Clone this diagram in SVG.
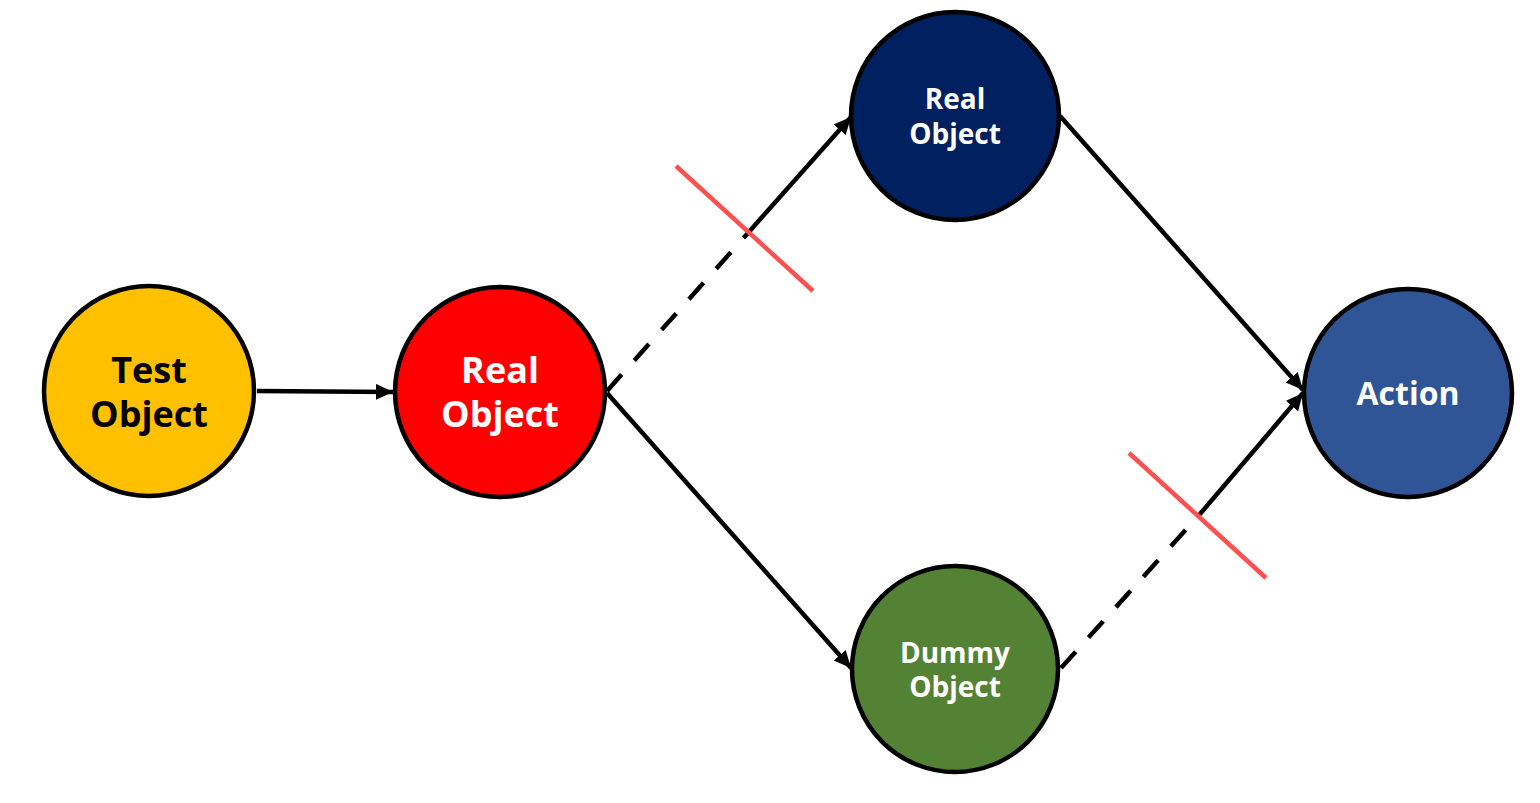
<svg xmlns="http://www.w3.org/2000/svg" width="1540" height="803" viewBox="0 0 1540 803">
<style>
.node{stroke:#000;stroke-width:4.5}
.lbl{font-family:"Open Sans","Noto Sans",sans-serif;font-weight:bold;text-anchor:middle}
.ln{stroke:#000;stroke-width:4.5;fill:none}
.dash{stroke-dasharray:22 19}
.cut{stroke:#FF4F4F;stroke-width:4.5}
</style>
<defs>
<marker id="ah" markerUnits="userSpaceOnUse" markerWidth="20" markerHeight="18" refX="17" refY="8" orient="auto">
<path d="M0,0 L17,8 L0,16 Z" fill="#000"/>
</marker>
</defs>
<rect width="1540" height="803" fill="#fff"/>
<g id="connectors">
<line class="ln" x1="257" y1="391" x2="393" y2="392" marker-end="url(#ah)"/>
<line class="ln dash" x1="607" y1="391" x2="748" y2="233"/>
<line class="ln" x1="748" y1="233" x2="851" y2="117" marker-end="url(#ah)"/>
<line class="ln" x1="607" y1="393" x2="851" y2="668" marker-end="url(#ah)"/>
<line class="ln" x1="1060" y1="116" x2="1303" y2="390" marker-end="url(#ah)"/>
<line class="ln dash" x1="1061" y1="668" x2="1200" y2="514"/>
<line class="ln" x1="1200" y1="514" x2="1303" y2="393" marker-end="url(#ah)"/>
<line class="cut" x1="676" y1="166" x2="813" y2="291"/>
<line class="cut" x1="1129" y1="453" x2="1266" y2="578"/>
</g>
<g id="test-object">
<circle class="node" cx="149" cy="391" r="105" fill="#FFC000"/>
<text class="lbl" font-size="36" fill="#000"><tspan x="149" y="383">Test</tspan><tspan x="149" y="427">Object</tspan></text>
</g>
<g id="real-object-1">
<circle class="node" cx="500" cy="392" r="105" fill="#FF0000"/>
<text class="lbl" font-size="36" fill="#fff"><tspan x="500" y="383">Real</tspan><tspan x="500" y="427">Object</tspan></text>
</g>
<g id="real-object-2">
<circle class="node" cx="955" cy="116" r="104" fill="#002060"/>
<text class="lbl" font-size="28" fill="#fff"><tspan x="955" y="109">Real</tspan><tspan x="955" y="144">Object</tspan></text>
</g>
<g id="dummy-object">
<circle class="node" cx="955" cy="669" r="103" fill="#548235"/>
<text class="lbl" font-size="28" fill="#fff"><tspan x="955" y="663">Dummy</tspan><tspan x="955" y="697">Object</tspan></text>
</g>
<g id="action">
<circle class="node" cx="1408" cy="393" r="104" fill="#2F5597"/>
<text class="lbl" font-size="32" fill="#fff" x="1408" y="405">Action</text>
</g>
</svg>
